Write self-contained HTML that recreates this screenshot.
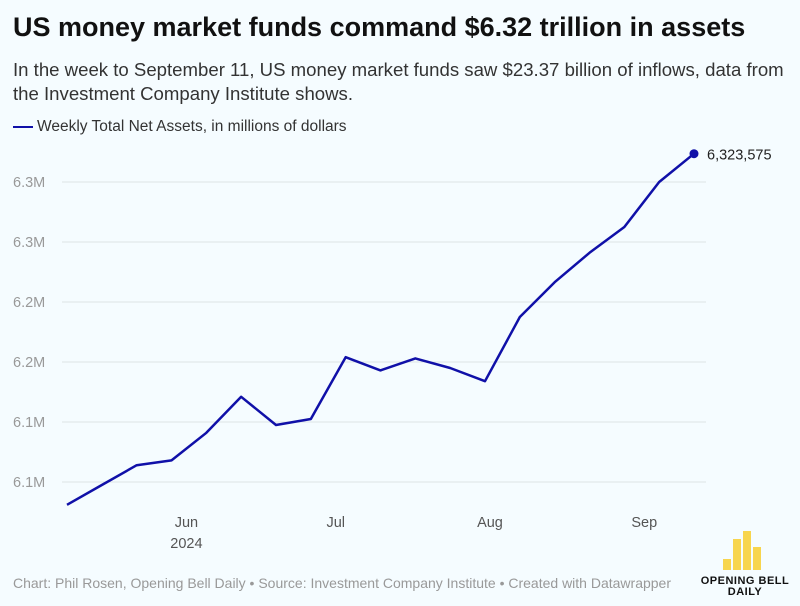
<!DOCTYPE html>
<html><head><meta charset="utf-8"><style>
body{margin:0;width:800px;height:606px;background:#f5fcff;font-family:"Liberation Sans",sans-serif;overflow:hidden;position:relative}
.t{position:absolute;white-space:nowrap}
</style></head><body>
<div class="t" style="left:13px;top:12px;font-size:27px;font-weight:bold;color:#111">US money market funds command $6.32 trillion in assets</div>
<div class="t" style="left:13px;top:58px;font-size:18.6px;color:#333;line-height:24px;white-space:normal;width:785px">In the week to September 11, US money market funds saw $23.37 billion of inflows, data from the Investment Company Institute shows.</div>
<div class="t" style="left:13px;top:118px;font-size:15.5px;color:#333"><span style="display:inline-block;width:20px;height:2.5px;background:#1010a8;vertical-align:middle;margin-right:4px"></span>Weekly Total Net Assets, in millions of dollars</div>
<svg id="c" width="800" height="606" style="position:absolute;left:0;top:0"></svg>
<div class="t" style="left:13px;top:575px;font-size:14px;color:#999">Chart: Phil Rosen, Opening Bell Daily • Source: Investment Company Institute • Created with Datawrapper</div>
<div style="position:absolute;left:690px;top:520px;width:110px;height:86px">
<div style="position:absolute;left:33px;top:39px;width:8px;height:11px;background:#f7d54e"></div>
<div style="position:absolute;left:43px;top:19px;width:8px;height:31px;background:#f7d54e"></div>
<div style="position:absolute;left:53px;top:11px;width:8px;height:39px;background:#f7d54e"></div>
<div style="position:absolute;left:63px;top:27px;width:8px;height:23px;background:#f7d54e"></div>
<div class="t" style="left:0;width:110px;text-align:center;top:56px;font-size:11px;font-weight:bold;letter-spacing:0.5px;color:#111;line-height:11px">OPENING BELL<br>DAILY</div>
</div>
<script>
const dates=["2024-05-08","2024-05-15","2024-05-22","2024-05-29","2024-06-05","2024-06-12","2024-06-19","2024-06-26","2024-07-03","2024-07-10","2024-07-17","2024-07-24","2024-07-31","2024-08-07","2024-08-14","2024-08-21","2024-08-28","2024-09-04","2024-09-11"];
const values=[6031000,6047500,6064000,6068000,6091000,6121000,6097500,6102500,6154000,6143000,6153000,6145000,6134000,6187500,6216500,6241000,6262500,6300000,6323575];
const yTicks=[6050000,6100000,6150000,6200000,6250000,6300000];
const yTickLabels=["6.1M","6.1M","6.2M","6.2M","6.3M","6.3M"];
const xTicks=["2024-06-01","2024-07-01","2024-08-01","2024-09-01"];
const xTickLabels=["Jun","Jul","Aug","Sep"];
const NS="http://www.w3.org/2000/svg",svg=document.getElementById('c');
const t0=Date.parse(dates[0]),t1=Date.parse(dates[dates.length-1]);
const x=d=>67+(Date.parse(d)-t0)/(t1-t0)*627;
const y=v=>182-(v-6300000)*0.0012;
function mk(tag,a){const e=document.createElementNS(NS,tag);for(const k in a)e.setAttribute(k,a[k]);svg.appendChild(e);return e;}
yTicks.forEach((v,i)=>{
 const g=mk('line',{x1:62,x2:706,y1:y(v),y2:y(v),stroke:'#dde3e6','stroke-width':1});
 
 
 const t=mk('text',{x:13,y:y(v)+5,'font-size':14.5,fill:'#999','font-family':'Liberation Sans'});
 t.textContent=yTickLabels[i];
 
 
});
xTicks.forEach((d,i)=>{
 const t=mk('text',{x:x(d),y:527,'font-size':14.5,fill:'#555','text-anchor':'middle','font-family':'Liberation Sans'});
 t.textContent=xTickLabels[i];
 
 
});
const yr=mk('text',{x:x(xTicks[0]),y:548,'font-size':14.5,fill:'#555','text-anchor':'middle','font-family':'Liberation Sans'});
yr.textContent="2024";


const p=mk('polyline',{points:dates.map((d,i)=>x(d)+','+y(values[i])).join(' '),fill:'none',stroke:'#1010a8','stroke-width':2.5,'stroke-linejoin':'round'});


const L=dates.length-1;
const dot=mk('circle',{cx:x(dates[L]),cy:y(values[L]),r:4.5,fill:'#1010a8'});


const lab=mk('text',{x:x(dates[L])+13,y:y(values[L])+6,'font-size':14.5,fill:'#222','font-family':'Liberation Sans'});
lab.textContent=values[L].toLocaleString('en-US');


</script>
</body></html>
